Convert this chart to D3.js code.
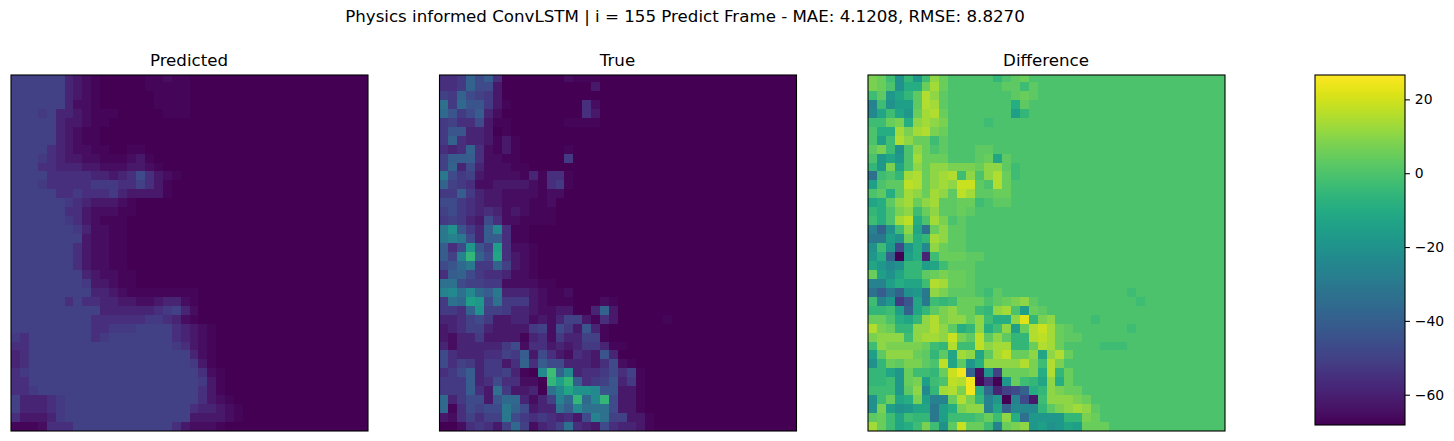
<!DOCTYPE html>
<html>
<head>
<meta charset="utf-8">
<script src="https://cdn.jsdelivr.net/npm/d3@7"></script>
<style>
  html, body { margin: 0; padding: 0; background: #fff; }
  text { font-family: "DejaVu Sans", sans-serif; fill: #000; }
</style>
</head>
<body>
<svg id="chart" width="1454" height="441"></svg>
<script>
// ----------------------- DATA -------------------------------
var suptitle = "Physics informed ConvLSTM | i = 155 Predict Frame - MAE: 4.1208, RMSE: 8.8270";
var panelTitles = ["Predicted", "True", "Difference"];
var colorbarTicks = [20, 0, -20, -40, -60];
var vmin = -68.2, vmax = 26.6;

// data value of each base 36 digit used in the rows below
var levelValues = [
  -68.2, -67, -64.9, -62, -58.7, -55.4, -52.6, -49.7, -46.9, -43.5,
  -40.7, -38.8, -36, -33.1, -30.3, -26.5, -23.6, -20.8, -18, -15.1,
  -12.3, -9.4, -5.6, -2.8, -0.2, 2.9, 4.8, 7.6, 10.5, 13.3,
  15.2, 17.1, 19, 21.9, 24.7, 26.6
];

// one string per image row, one digit per cell
// rows are short when the rest of the row is the background digit
var predictedRows = [
  "77777743210000011211", "77777743210000011111", "77777743210000001111", "77777742210000001111",
  "77767443211100000111", "77777433211", "7777743211", "7777743211",
  "777754322110011", "7776543322111231", "77755444332223321", "7777555554434585321",
  "777655555666557531", "777775565556433331", "77777765433321", "77777755322211",
  "7777776532111", "7777777642211", "7777777732211", "7777777532211",
  "7777777532211", "7777777532211", "77777777432211", "77777777633211",
  "777777777443211111111", "777777575544332234421", "777777777744444456742", "777777777555555665421",
  "77777777755666777754321", "65777777756777777754321", "55777777777777777765321", "45777777777777777777421",
  "45777777777777777777631", "567777777777777777777521", "557777777777777777777631", "556777777777777777777531",
  "7444567777777777777775321", "74445677777777777777544321", "53334677777777777777333321", "111255577777777777532221"
];

var trueRows = [
  "556b8a500000002111", "556b88300000000003", "76b8763000", "d6c996310000000052",
  "c968a4200000000053", "675583110000001111", "6994430100", "6b54431310",
  "545b52131000001", "7aaa52211000006", "7b48422211", "e86732222141551",
  "b76522333321561", "66a64332222122", "8865433222112", "7865454232111",
  "6764385221111", "eh964ag511", "efe84aa511", "a58i97j5221",
  "a7fmb8k5321", "89ce66b7321", "5ab86554221", "dd87766222211",
  "fgdgcae44432112", "6dcji8d6663211100021", "665bh7764432233004b3", "44578633442324773153000001",
  "34577433336728639410", "32446333314526447710", "424444468255343466411", "854445576a3853254394",
  "857646635b5a8844435821", "568a4667410gnbg45568571", "666a45855220mjma5679461", "666a53d63340dgkhhg99331",
  "c468839cc4247fcmcgm8331", "c158788eb8344dagddd8331", "3257577e865654538fd77331", "00256537c72457d543854431"
];

var differenceRows = [
  "rqnhminsqooooomopqo", "rqohllqtqooooooppnp", "npikmpuspooooooopqp", "fnhjjputpooooooolp",
  "gknkiqtuqooooooojm", "nnqrlstsroooon", "olltrturqo", "ojnusqqnpo",
  "prnhosqopooopp", "oikiotqqqooopqkp", "mirkosqssrrrqsspn", "dnomtuqstunsosuqn",
  "joppvuqstswwpouqo", "oplptsqtspvtppqqo", "klpstqstppqqnoppo", "mlorsnqsppqpoo",
  "nlotvlotropo", "fbhnskdqsppo", "eejhqlmtsppo", "hni8ilgsqppo",
  "ilb0jl4nqqqppo", "kighmmjknpppo", "qjhkmmpqrqqpo", "ffjlkknutqqpo",
  "daebhiesrppponpoooooooooooooon", "nfi69kenmnqqqopqrspooooooooooon", "mmnjbkmprsqqnmstojqp", "qqolkmsurssqsnllsxmrsoooon",
  "urqmmssusplmslnsjquwtqpoooooon", "rsssnsttswrpvpspmmuvtqpp", "nsrrrrqnmunnvsttmmqutqoooonnn", "jpsssqpmpktskptvqqsksuqo",
  "hmqprrpovkpilssssurnuro", "mmkiqnnmqwyb2h7qqqrlumqo", "mmniqrjnovuy150iqnmkslqo", "nnnipsgmturylc478blmsrqqo",
  "hnqklrjffqurmfi0f83nsssrqo", "hrjhikkejlrssfkbgggmprstsp", "pqnknmmejnnnoqnsldiiiimmrqo", "tqnklnrnhpwqqnfqrsijhikjqqqo"
];

var rowIndex = d3.range(40);

// turns the row strings into data values
function decode(rows, background) {
  var cells = [];
  rows.forEach(function(row, r) {
    var full = row.padEnd(40, background);
    rowIndex.forEach(function(c) {
      cells.push({row: r, col: c, value: levelValues[parseInt(full[c], 36)]});
    });
  });
  return cells;
}

var panels = [
  {title: panelTitles[0], left: 11,  cells: decode(predictedRows, "0")},
  {title: panelTitles[1], left: 439.5, cells: decode(trueRows, "0")},
  {title: panelTitles[2], left: 868, cells: decode(differenceRows, "o")}
];

// ----------------------- LAYOUT -------------------------------
var svg = d3.select("#chart");
var panelWidth = 357, panelTop = 75, panelBottom = 431;

var color = d3.scaleSequential(d3.interpolateViridis).domain([vmin, vmax]);

// the top row of the image is cut a bit by the axes
var y = d3.scaleLinear().domain([0.22, 40]).range([panelTop, panelBottom]);

svg.append("text")
    .attr("x", 685)
    .attr("y", 22)
    .attr("text-anchor", "middle")
    .style("font-size", "16.67px")
    .text(suptitle);

svg.append("defs").append("clipPath")
    .attr("id", "clip")
  .append("rect")
    .attr("y", panelTop)
    .attr("width", 1454)
    .attr("height", panelBottom - panelTop);

panels.forEach(function(p) {
  var x = d3.scaleLinear().domain([0, 40]).range([p.left, p.left + panelWidth]);
  var g = svg.append("g");

  g.append("g")
      .attr("clip-path", "url(#clip)")
    .selectAll("rect")
    .data(p.cells)
    .enter().append("rect")
      .attr("x", function(d) { return x(d.col); })
      .attr("y", function(d) { return y(d.row); })
      .attr("width", function(d) { return x(d.col + 1) - x(d.col); })
      .attr("height", function(d) { return y(d.row + 1) - y(d.row); })
      .attr("fill", function(d) { return color(d.value); })
      .attr("shape-rendering", "crispEdges");

  g.append("rect")
      .attr("x", p.left)
      .attr("y", panelTop)
      .attr("width", panelWidth)
      .attr("height", panelBottom - panelTop)
      .attr("fill", "none")
      .attr("stroke", "#000")
      .attr("stroke-width", 1.1);

  g.append("text")
      .attr("x", p.left + panelWidth / 2 - 0.5)
      .attr("y", 65.5)
      .attr("text-anchor", "middle")
      .style("font-size", "16.67px")
      .text(p.title);
});

// ----------------------- COLORBAR -------------------------------
var barLeft = 1315, barWidth = 90, barTop = 75, barBottom = 425;

var barScale = d3.scaleLinear().domain([vmin, vmax]).range([barBottom, barTop]);

var gradient = svg.select("defs").append("linearGradient")
    .attr("id", "viridis")
    .attr("x1", 0).attr("y1", 1)
    .attr("x2", 0).attr("y2", 0);

gradient.selectAll("stop")
    .data(d3.range(0, 1.001, 0.02))
    .enter().append("stop")
      .attr("offset", function(d) { return d; })
      .attr("stop-color", function(d) { return d3.interpolateViridis(d); });

svg.append("rect")
    .attr("x", barLeft)
    .attr("y", barTop)
    .attr("width", barWidth)
    .attr("height", barBottom - barTop)
    .attr("fill", "url(#viridis)")
    .attr("stroke", "#000")
    .attr("stroke-width", 1.1);

var barAxis = svg.append("g")
    .attr("transform", "translate(" + (barLeft + barWidth) + ",0)")
    .call(d3.axisRight(barScale).tickValues(colorbarTicks).tickSize(4.9).tickPadding(4.9));

barAxis.select(".domain").remove();
barAxis.selectAll("line").attr("stroke", "#000").attr("stroke-width", 1.1);
barAxis.selectAll("text")
    .style("font-family", '"DejaVu Sans", sans-serif')
    .style("font-size", "13.9px");
</script>
</body>
</html>
